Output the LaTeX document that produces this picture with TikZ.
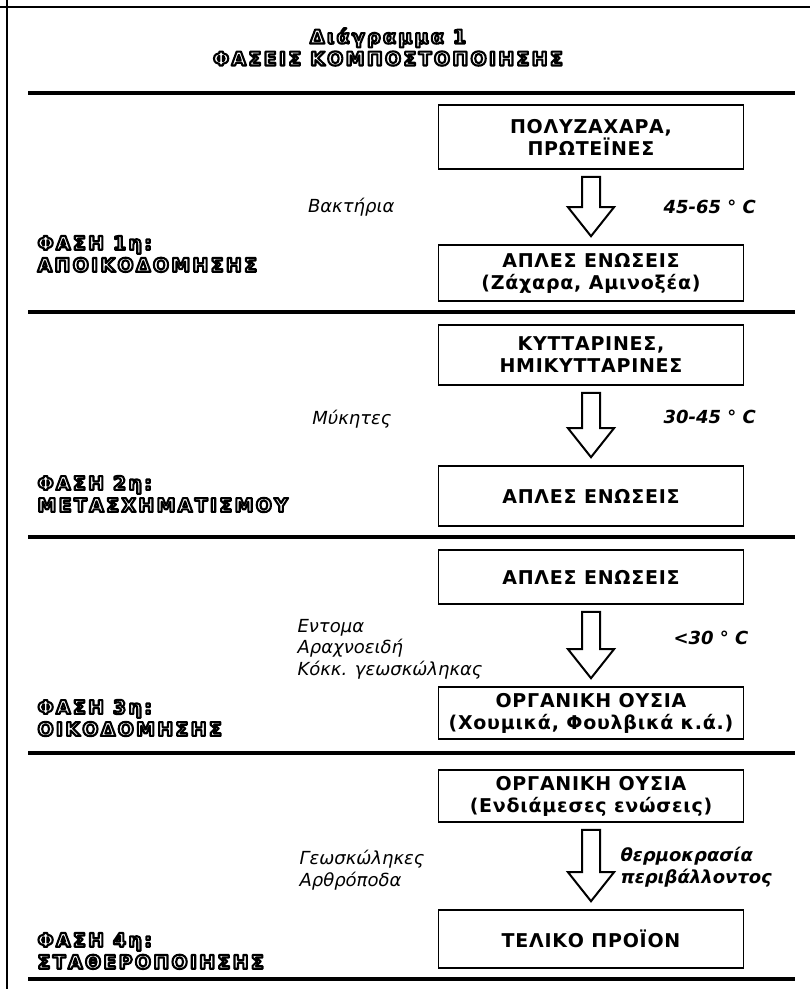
\documentclass[tikz,border=0pt]{standalone}
\usepackage{fontspec}
\setmainfont{DejaVu Sans}
\newfontfamily\boxfont[LetterSpace=4]{DejaVu Sans}
\newfontfamily\outfont[LetterSpace=12]{DejaVu Sans}
\usetikzlibrary{calc}

\newcommand{\hollow}[1]{\special{pdf:literal direct q 2 Tr 2.1 w 1 g 0 G 1 j}#1\special{pdf:literal direct Q}}
\newcommand{\blockarrow}[2]{%
  \draw[arr] let \p1=(#1.south), \p2=(#2.north) in
    (\x1-9pt,\y1-7pt) -- (\x1+9pt,\y1-7pt) -- (\x1+9pt,\y2+37pt) -- (\x1+23pt,\y2+37pt)
    -- (\x1,\y2+8pt) -- (\x1-23pt,\y2+37pt) -- (\x1-9pt,\y2+37pt) -- cycle;}

\begin{document}
\begin{tikzpicture}[x=1pt, y=-1pt,
    box/.style={draw, line width=1.6pt, minimum width=305pt, inner sep=0pt, align=center,
      font=\boxfont\bfseries\fontsize{19}{22}\selectfont},
    note/.style={align=left, font=\fontsize{18}{21.5}\selectfont\itshape},
    temp/.style={align=left, font=\fontsize{18}{21.5}\selectfont\bfseries\itshape},
    phase/.style={align=left, anchor=west, font=\outfont\bfseries\fontsize{19}{22}\selectfont},
    sep/.style={line width=3.8pt},
    arr/.style={line width=2pt, line join=miter}]
\useasboundingbox (0,0) rectangle (810,989);

\draw[line width=1.2pt] (0,7) -- (810,7);
\draw[line width=1.2pt] (7,0) -- (7,989);

\node[phase, anchor=center, align=center] (title) at (388,47)
  {\hollow{Διάγραμμα 1}\\\hollow{ΦΑΣΕΙΣ ΚΟΜΠΟΣΤΟΠΟΙΗΣΗΣ}};

\draw[sep] (28,93) -- (795,93);
\draw[sep] (28,312) -- (795,312);
\draw[sep] (28,537) -- (795,537);
\draw[sep] (28,753) -- (795,753);
\draw[sep] (28,979) -- (795,979);

\node[box, minimum height=64pt] (poly) at (591,137) {ΠΟΛΥΖΑΧΑΡΑ,\\ΠΡΩΤΕΪΝΕΣ};
\node[box, minimum height=56pt] (apl1) at (591,273) {ΑΠΛΕΣ ΕΝΩΣΕΙΣ\\(Ζάχαρα, Αμινοξέα)};
\node[box, minimum height=60pt] (kyt) at (591,355) {ΚΥΤΤΑΡΙΝΕΣ,\\ΗΜΙΚΥΤΤΑΡΙΝΕΣ};
\node[box, minimum height=60pt] (apl2) at (591,496) {ΑΠΛΕΣ ΕΝΩΣΕΙΣ};
\node[box, minimum height=54pt] (apl3) at (591,577) {ΑΠΛΕΣ ΕΝΩΣΕΙΣ};
\node[box, minimum height=52pt] (org1) at (591,713) {ΟΡΓΑΝΙΚΗ ΟΥΣΙΑ\\(Χουμικά, Φουλβικά κ.ά.)};
\node[box, minimum height=52pt] (org2) at (591,796) {ΟΡΓΑΝΙΚΗ ΟΥΣΙΑ\\(Ενδιάμεσες ενώσεις)};
\node[box, minimum height=58pt] (tel) at (591,939) {ΤΕΛΙΚΟ ΠΡΟΪΟΝ};

\blockarrow{poly}{apl1}
\blockarrow{kyt}{apl2}
\blockarrow{apl3}{org1}
\blockarrow{org2}{tel}

\node[note, anchor=east] (bak) at (398,207) {Βακτήρια};
\node[temp, anchor=west] (t1) at (660,207) {45-65 ° C};
\node[note, anchor=east] (myk) at (395,419) {Μύκητες};
\node[temp, anchor=west] (t2) at (660,417) {30-45 ° C};
\node[note, anchor=west] (ent) at (294,649) {Εντομα\\Αραχνοειδή\\Κόκκ. γεωσκώληκας};
\node[temp, anchor=west] (t3) at (670,638) {<30 ° C};
\node[note, anchor=west] (geo) at (296,870) {Γεωσκώληκες\\Αρθρόποδα};
\node[temp, anchor=west] (t4) at (617,867) {θερμοκρασία\\περιβάλλοντος};

\node[phase] (ph1) at (34,254) {\hollow{ΦΑΣΗ 1η:}\\\hollow{ΑΠΟΙΚΟΔΟΜΗΣΗΣ}};
\node[phase] (ph2) at (34,494) {\hollow{ΦΑΣΗ 2η:}\\\hollow{ΜΕΤΑΣΧΗΜΑΤΙΣΜΟΥ}};
\node[phase] (ph3) at (34,718) {\hollow{ΦΑΣΗ 3η:}\\\hollow{ΟΙΚΟΔΟΜΗΣΗΣ}};
\node[phase] (ph4) at (34,951) {\hollow{ΦΑΣΗ 4η:}\\\hollow{ΣΤΑΘΕΡΟΠΟΙΗΣΗΣ}};
\end{tikzpicture}
\end{document}
